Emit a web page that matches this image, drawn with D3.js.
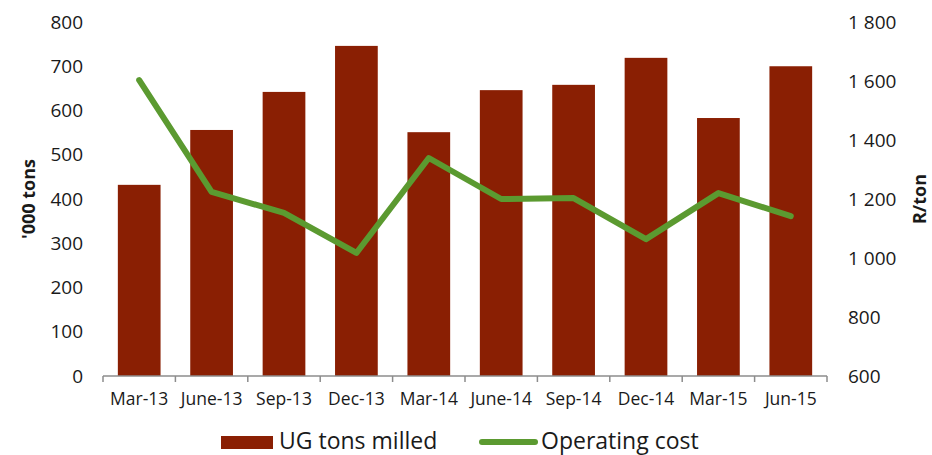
<!DOCTYPE html>
<html>
<head>
<meta charset="utf-8">
<script src="https://cdn.jsdelivr.net/npm/d3@7"></script>
<style>
  html, body { margin: 0; padding: 0; background: #fff; }
  svg text { font-family: "Open Sans", "Noto Sans", sans-serif; fill: #1a1a1a; }
</style>
</head>
<body>
<div id="chart"></div>
<script>
const quarters = ['Mar-13', 'June-13', 'Sep-13', 'Dec-13', 'Mar-14', 'June-14', 'Sep-14', 'Dec-14', 'Mar-15', 'Jun-15'];
const tonsMilled = [432, 556, 642, 746, 551, 646, 658, 719, 583, 700];
const operatingCost = [1603, 1224, 1153, 1017, 1339, 1200, 1203, 1064, 1220, 1142];
const leftTicks = [0, 100, 200, 300, 400, 500, 600, 700, 800];
const rightTicks = [600, 800, 1000, 1200, 1400, 1600, 1800];

const W = 932, H = 455;
const margin = { top: 22, right: 105, bottom: 79, left: 103 };
const width = W - margin.left - margin.right;
const height = H - margin.top - margin.bottom;

const barColor = '#8a1f03';
const lineColor = '#5b9a30';

const svg = d3.select('#chart')
  .append('svg')
  .attr('width', W)
  .attr('height', H);

const g = svg.append('g')
  .attr('transform', `translate(${margin.left},${margin.top})`);

const x = d3.scaleBand()
  .domain(quarters)
  .range([0, width])
  .paddingInner(0.41)
  .paddingOuter(0.205);

const yLeft = d3.scaleLinear().domain([0, 800]).range([height, 0]);
const yRight = d3.scaleLinear().domain([600, 1800]).range([height, 0]);

// left axis labels only
g.append('g')
  .call(d3.axisLeft(yLeft).tickValues(leftTicks).tickSize(0).tickPadding(20))
  .call(a => a.select('.domain').remove())
  .call(a => a.selectAll('text').attr('font-size', 19).attr('font-family', null));

// right axis labels, space as thousands separator
const spaceFmt = d3.formatLocale({ decimal: '.', thousands: ' ', grouping: [3], currency: ['', ''] }).format(',');
g.append('g')
  .attr('transform', `translate(${width},0)`)
  .call(d3.axisRight(yRight).tickValues(rightTicks).tickFormat(spaceFmt).tickSize(0).tickPadding(21))
  .call(a => a.select('.domain').remove())
  .call(a => a.selectAll('text').attr('font-size', 19).attr('font-family', null));

// bars
g.selectAll('.bar')
  .data(quarters)
  .enter().append('rect')
  .attr('class', 'bar')
  .attr('x', d => x(d))
  .attr('y', (d, i) => yLeft(tonsMilled[i]))
  .attr('width', x.bandwidth())
  .attr('height', (d, i) => height - yLeft(tonsMilled[i]))
  .attr('fill', barColor);

// bottom axis with ticks on category boundaries
const step = x.step();
const boundaries = d3.range(quarters.length + 1).map(i => i * step);
const bottom = g.append('g').attr('transform', `translate(0,${height})`);
bottom.append('line')
  .attr('x1', 0).attr('x2', width)
  .attr('stroke', '#8c8c8c').attr('stroke-width', 1.5);
bottom.selectAll('.tick-mark')
  .data(boundaries)
  .enter().append('line')
  .attr('class', 'tick-mark')
  .attr('x1', d => d).attr('x2', d => d)
  .attr('y1', 0).attr('y2', 6)
  .attr('stroke', '#8c8c8c').attr('stroke-width', 1.5);
bottom.selectAll('.xlabel')
  .data(quarters)
  .enter().append('text')
  .attr('class', 'xlabel')
  .attr('x', d => x(d) + x.bandwidth() / 2)
  .attr('y', 29)
  .attr('text-anchor', 'middle')
  .attr('font-size', 17.5)
  .text(d => d);

// operating cost line
const line = d3.line()
  .x((d, i) => x(quarters[i]) + x.bandwidth() / 2)
  .y(d => yRight(d));

g.append('path')
  .datum(operatingCost)
  .attr('fill', 'none')
  .attr('stroke', lineColor)
  .attr('stroke-width', 6)
  .attr('stroke-linejoin', 'round')
  .attr('stroke-linecap', 'round')
  .attr('d', line);

// axis titles
svg.append('text')
  .attr('transform', `translate(35,${margin.top + yLeft(400)}) rotate(-90)`)
  .attr('text-anchor', 'middle')
  .attr('font-size', 18)
  .attr('font-weight', 'bold')
  .text("'000 tons");

svg.append('text')
  .attr('transform', `translate(926,${margin.top + yRight(1200)}) rotate(-90)`)
  .attr('text-anchor', 'middle')
  .attr('font-size', 18)
  .attr('font-weight', 'bold')
  .text('R/ton');

// legend
const legend = svg.append('g').attr('transform', 'translate(0,441)');
legend.append('rect')
  .attr('x', 221).attr('y', -5)
  .attr('width', 52).attr('height', 13)
  .attr('fill', barColor);
legend.append('text')
  .attr('x', 279).attr('y', 8)
  .attr('font-size', 23)
  .text('UG tons milled');
legend.append('line')
  .attr('x1', 482).attr('x2', 535)
  .attr('y1', 1).attr('y2', 1)
  .attr('stroke', lineColor).attr('stroke-width', 6)
  .attr('stroke-linecap', 'round');
legend.append('text')
  .attr('x', 541).attr('y', 8)
  .attr('font-size', 23)
  .text('Operating cost');
</script>
</body>
</html>
